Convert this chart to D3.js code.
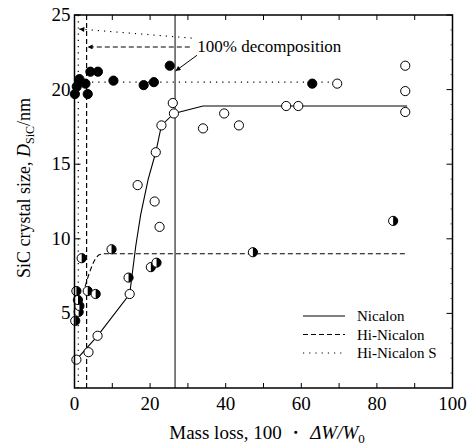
<!DOCTYPE html>
<html>
<head>
<meta charset="utf-8">
<script src="https://cdn.jsdelivr.net/npm/d3@7"></script>
<style>
  body { margin: 0; background: #fff; }
  svg text { font-family: "Liberation Serif", "Times New Roman", serif; fill: #000; }
</style>
</head>
<body>
<div id="vis"></div>
<script>
var width = 474;
var height = 447;
var margin = { top: 15, left: 74.5, bottom: 59, right: 21.5 };

// Nicalon (open circles)
var nicalonPts = [
  [0.5, 1.9], [3.7, 2.4], [6.1, 3.5], [14.6, 6.3], [16.7, 13.6], [21.2, 12.5],
  [22.5, 10.8], [21.5, 15.8], [23, 17.6], [26, 19.1], [26.3, 18.4], [34, 17.4],
  [39.6, 18.4], [43.5, 17.6], [56, 18.9], [59.2, 18.9], [69.5, 20.4],
  [87.5, 21.6], [87.5, 19.9], [87.5, 18.5]
];
// Hi-Nicalon (half filled)
var hiNicalonPts = [
  [0.2, 4.5], [1.1, 5.1], [1.3, 5.5], [0.9, 5.9], [0.5, 6.5], [1.9, 8.7],
  [3.5, 6.5], [5.6, 6.3], [9.8, 9.3], [14.3, 7.4], [20.2, 8.1], [21.7, 8.4],
  [47.2, 9.1], [84.3, 11.2]
];
// Hi-Nicalon S (filled)
var hiNicalonSPts = [
  [0.1, 19.7], [0.6, 20.2], [1.3, 20.7], [2.9, 20.4], [3.5, 19.7], [4.2, 21.2],
  [6.2, 21.2], [10.3, 20.6], [18.3, 20.3], [21, 20.5], [25.2, 21.6], [62.9, 20.4]
];

// trend lines
var nicalonLine = [
  [0.5, 1.9], [6.1, 3.5], [14.6, 6.3], [16.2, 9.5], [17.5, 11.6], [19.5, 14],
  [21.5, 15.8], [23, 17.6], [26.3, 18.4], [34, 18.9], [88, 18.9]
];
var hiNicalonLine = [
  [2.8, 6.8], [4.2, 7.9], [5.4, 8.6], [6.7, 8.95], [8, 9.0], [88, 9.0]
];
var hiNicalonSLine = [[3, 20.5], [69.5, 20.5]];

// 100% decomposition positions
var decompX = { nicalon: 26.6, hiNicalon: 3.2, hiNicalonS: 1.0 };

var xTicks = [0, 20, 40, 60, 80, 100];
var yTicks = [5, 10, 15, 20, 25];

var w = width - margin.left - margin.right;
var h = height - margin.top - margin.bottom;

var x = d3.scaleLinear().domain([0, 100]).range([0, w]);
var y = d3.scaleLinear().domain([0, 25]).range([h, 0]);

var svg = d3.select('#vis').append('svg')
  .attr('width', width)
  .attr('height', height);

var defs = svg.append('defs');
defs.append('marker')
  .attr('id', 'arr')
  .attr('viewBox', '0 0 10 10')
  .attr('refX', 10).attr('refY', 5)
  .attr('markerWidth', 7).attr('markerHeight', 5)
  .attr('orient', 'auto')
  .attr('markerUnits', 'userSpaceOnUse')
  .append('path').attr('d', 'M0,0L10,5L0,10z').attr('fill', '#000');

var half = defs.append('clipPath').attr('id', 'rightHalf');
half.append('rect').attr('x', 0).attr('y', -10).attr('width', 10).attr('height', 20);

var g = svg.append('g')
  .attr('transform', 'translate(' + margin.left + ',' + margin.top + ')');

// ticks (inward, all sides)
var tickG = g.append('g');
d3.range(10, 100, 10).forEach(function (v) {
  tickG.append('line').attr('x1', x(v)).attr('x2', x(v)).attr('y1', h).attr('y2', h - 5)
    .attr('stroke', '#000');
  tickG.append('line').attr('x1', x(v)).attr('x2', x(v)).attr('y1', 0).attr('y2', 5)
    .attr('stroke', '#000');
});
yTicks.forEach(function (v) {
  tickG.append('line').attr('x1', 0).attr('x2', 6).attr('y1', y(v)).attr('y2', y(v))
    .attr('stroke', '#000');
  tickG.append('line').attr('x1', w).attr('x2', w - 6).attr('y1', y(v)).attr('y2', y(v))
    .attr('stroke', '#000');
});
d3.range(1, 25, 1).forEach(function (v) {
  if (v % 5 === 0) return;
  tickG.append('line').attr('x1', w).attr('x2', w - 2).attr('y1', y(v)).attr('y2', y(v))
    .attr('stroke', '#000').attr('stroke-width', 0.6);
});

// tick labels
g.selectAll('.xlab').data(xTicks).enter().append('text')
  .attr('class', 'xlab')
  .attr('x', function (d) { return x(d); })
  .attr('y', h + 22)
  .attr('text-anchor', 'middle')
  .style('font-size', '19px')
  .text(function (d) { return d; });

g.selectAll('.ylab').data(yTicks).enter().append('text')
  .attr('class', 'ylab')
  .attr('x', -4)
  .attr('y', function (d) { return y(d) + 6; })
  .attr('text-anchor', 'end')
  .style('font-size', '19px')
  .text(function (d) { return d; });

// decomposition vertical lines
g.append('line')
  .attr('x1', x(decompX.nicalon)).attr('x2', x(decompX.nicalon))
  .attr('y1', 0).attr('y2', h)
  .attr('stroke', '#000').attr('stroke-width', 1);
g.append('line')
  .attr('x1', x(decompX.hiNicalon)).attr('x2', x(decompX.hiNicalon))
  .attr('y1', 0).attr('y2', h)
  .attr('stroke', '#000').attr('stroke-width', 1.2)
  .attr('stroke-dasharray', '5,3');
g.append('line')
  .attr('x1', x(decompX.hiNicalonS)).attr('x2', x(decompX.hiNicalonS))
  .attr('y1', 0).attr('y2', h)
  .attr('stroke', '#000').attr('stroke-width', 1.2)
  .attr('stroke-dasharray', '1.2,5');

// annotation arrows
g.append('line')
  .attr('x1', x(30.5)).attr('y1', y(22.86))
  .attr('x2', x(decompX.hiNicalon) + 1).attr('y2', y(22.86))
  .attr('stroke', '#000').attr('stroke-width', 1.1)
  .attr('stroke-dasharray', '5,3')
  .attr('marker-end', 'url(#arr)');
g.append('line')
  .attr('x1', x(31)).attr('y1', y(23.45))
  .attr('x2', x(decompX.hiNicalonS) + 1).attr('y2', y(24.06))
  .attr('stroke', '#000').attr('stroke-width', 1.1)
  .attr('stroke-dasharray', '1.2,5')
  .attr('marker-end', 'url(#arr)');
g.append('line')
  .attr('x1', x(32.4)).attr('y1', y(22.3))
  .attr('x2', x(decompX.nicalon) + 0.5).attr('y2', y(21.25))
  .attr('stroke', '#000').attr('stroke-width', 1)
  .attr('marker-end', 'url(#arr)');
g.append('text')
  .attr('x', x(32.5))
  .attr('y', y(22.5))
  .style('font-size', '17px')
  .text('100% decomposition');

// trend lines
var line = d3.line()
  .x(function (d) { return x(d[0]); })
  .y(function (d) { return y(d[1]); });

g.append('path').datum(nicalonLine)
  .attr('d', line).attr('fill', 'none').attr('stroke', '#000').attr('stroke-width', 1.1);
g.append('path').datum(hiNicalonLine)
  .attr('d', d3.line().curve(d3.curveMonotoneX)
    .x(function (d) { return x(d[0]); }).y(function (d) { return y(d[1]); }))
  .attr('fill', 'none').attr('stroke', '#000').attr('stroke-width', 1.1)
  .attr('stroke-dasharray', '5,3');
g.append('path').datum(hiNicalonSLine)
  .attr('d', line).attr('fill', 'none').attr('stroke', '#000').attr('stroke-width', 1.2)
  .attr('stroke-dasharray', '1.2,5');

// markers
var r = 4.6;
g.selectAll('.open').data(nicalonPts).enter().append('circle')
  .attr('class', 'open')
  .attr('cx', function (d) { return x(d[0]); })
  .attr('cy', function (d) { return y(d[1]); })
  .attr('r', r)
  .attr('fill', '#fff').attr('stroke', '#000').attr('stroke-width', 1);

var halfG = g.selectAll('.half').data(hiNicalonPts).enter().append('g')
  .attr('class', 'half')
  .attr('transform', function (d) { return 'translate(' + x(d[0]) + ',' + y(d[1]) + ')'; });
halfG.append('circle').attr('r', r).attr('fill', '#fff');
halfG.append('circle').attr('r', r).attr('fill', '#000').attr('clip-path', 'url(#rightHalf)');
halfG.append('circle').attr('r', r).attr('fill', 'none').attr('stroke', '#000').attr('stroke-width', 1);

g.selectAll('.filled').data(hiNicalonSPts).enter().append('circle')
  .attr('class', 'filled')
  .attr('cx', function (d) { return x(d[0]); })
  .attr('cy', function (d) { return y(d[1]); })
  .attr('r', r)
  .attr('fill', '#000').attr('stroke', '#000').attr('stroke-width', 1);

// frame
g.append('rect')
  .attr('x', 0).attr('y', 0).attr('width', w).attr('height', h)
  .attr('fill', 'none').attr('stroke', '#000').attr('stroke-width', 1.5);

// legend
var legendItems = [
  { label: 'Nicalon', dash: null },
  { label: 'Hi-Nicalon', dash: '5,3' },
  { label: 'Hi-Nicalon S', dash: '1.2,5' }
];
var leg = g.append('g').attr('transform', 'translate(' + (303 - margin.left) + ',' + (316 - margin.top) + ')');
legendItems.forEach(function (d, i) {
  leg.append('line')
    .attr('x1', 0).attr('x2', 42).attr('y1', i * 18.5).attr('y2', i * 18.5)
    .attr('stroke', '#000').attr('stroke-width', 1)
    .attr('stroke-dasharray', d.dash);
  leg.append('text')
    .attr('x', 54).attr('y', i * 18.5 + 5)
    .style('font-size', '15px')
    .text(d.label);
});

// axis titles
var xt = svg.append('text')
  .attr('x', 267).attr('y', 439)
  .attr('text-anchor', 'middle')
  .style('font-size', '19px');
xt.append('tspan').text('Mass loss, 100 \u30FB ');
xt.append('tspan').style('font-style', 'italic').text('\u0394W/W');
xt.append('tspan').attr('dy', 4).style('font-size', '13px').text('0');

var yt = svg.append('text')
  .attr('transform', 'translate(30,188) rotate(-90)')
  .attr('text-anchor', 'middle')
  .style('font-size', '18px');
yt.append('tspan').text('SiC crystal size, ');
yt.append('tspan').style('font-style', 'italic').text('D');
yt.append('tspan').attr('dy', 4).style('font-size', '12px').text('SiC');
yt.append('tspan').attr('dy', -4).text('/nm');
</script>
</body>
</html>
